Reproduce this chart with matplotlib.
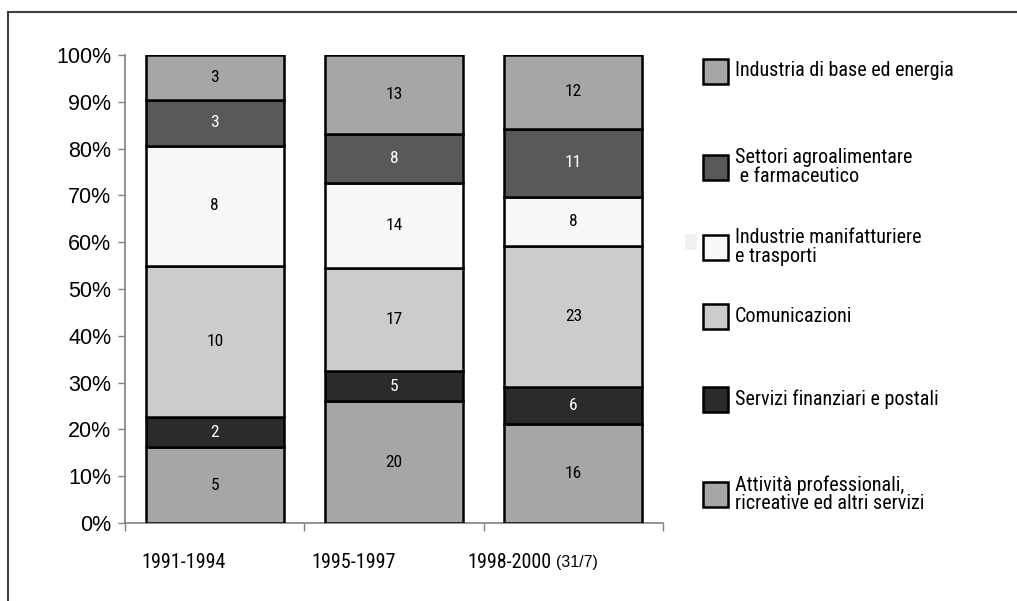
import numpy as np
import matplotlib
matplotlib.use("Agg")
import matplotlib.pyplot as plt
from matplotlib.patches import Rectangle
from matplotlib.lines import Line2D

periods = ['1991-1994', '1995-1997', '1998-2000']
period_note = '(31/7)'
sectors = [
    'Attività professionali,\nricreative ed altri servizi',
    'Servizi finanziari e postali',
    'Comunicazioni',
    'Industrie manifatturiere\ne trasporti',
    'Settori agroalimentare\n e farmaceutico',
    'Industria di base ed energia',
]
# number of operations per period, bottom -> top
attivita = [5, 20, 16]
servizi_fin = [2, 5, 6]
comunicazioni = [10, 17, 23]
manifatturiere = [8, 14, 8]
agroalimentare = [3, 8, 11]
industria_base = [3, 13, 12]

colors = ['#a6a6a6', '#2b2b2b', '#cccccc', '#f8f8f8', '#595959', '#a6a6a6']
text_colors = ['black', 'white', 'black', 'black', 'white', 'black']

narrow = ['Roboto Condensed', 'Liberation Sans', 'DejaVu Sans']
arial = ['Liberation Sans', 'DejaVu Sans']

counts = np.array([attivita, servizi_fin, comunicazioni, manifatturiere,
                   agroalimentare, industria_base], dtype=float)
pct = counts / counts.sum(axis=0) * 100

fig = plt.figure(figsize=(10.17, 6.01), dpi=100)
ax = fig.add_axes([0.123, 0.130, 0.529, 0.7785])

x = np.arange(len(periods))
bottom = np.zeros(len(periods))
for i in range(len(sectors)):
    ax.bar(x, pct[i], 0.77, bottom=bottom, color=colors[i],
           edgecolor='black', linewidth=1.8, zorder=3)
    for j in range(len(periods)):
        ax.text(x[j], bottom[j] + pct[i][j] / 2, str(int(counts[i][j])),
                ha='center', va='center', fontsize=12.5, family=narrow,
                color=text_colors[i], zorder=4)
    bottom += pct[i]

ax.set_xlim(-0.5, 2.5)
ax.set_ylim(0, 100)
ax.set_yticks(np.arange(0, 101, 10))
ax.set_yticklabels([f'{v}%' for v in range(0, 101, 10)],
                   fontsize=15.5, family=arial)
ax.set_xticks([-0.5, 0.5, 1.5, 2.5])
ax.set_xticklabels([])
ax.tick_params(axis='y', length=5, width=1, color='#808080', pad=5)
ax.tick_params(axis='x', length=6, width=1, color='#808080')
for s in ['top', 'right']:
    ax.spines[s].set_visible(False)
for s in ['left', 'bottom']:
    ax.spines[s].set_color('#808080')
    ax.spines[s].set_linewidth(1.2)

# category labels sit a bit left of the bar centres, as in the original
shift = [-0.173, -0.226, -0.357]
lbl = None
for j, p in enumerate(periods):
    lbl = ax.text(x[j] + shift[j], -8.4, p, ha='center', va='center',
                  fontsize=14.5, family=narrow)
ax.annotate(period_note, xy=(1, 0.5), xycoords=lbl, xytext=(3, 0),
            textcoords='offset points', ha='left', va='center',
            fontsize=11.5, family=arial)

# legend drawn by hand, top to bottom
W, H = 1017.0, 601.0
leg_y = [71, 167, 247, 316, 399, 494]
for k, yy in enumerate(leg_y):
    i = len(sectors) - 1 - k
    fig.patches.append(Rectangle((703 / W, 1 - (yy + 12.5) / H), 25 / W, 25 / H,
                                 transform=fig.transFigure,
                                 facecolor=colors[i], edgecolor='black',
                                 linewidth=1.8))
    fig.text(735 / W, 1 - yy / H, sectors[i], ha='left', va='center',
             fontsize=14.5, family=narrow, linespacing=0.95)

# small stray grey square next to the legend
fig.patches.append(Rectangle((685 / W, 1 - 250 / H), 12 / W, 16 / H,
                             transform=fig.transFigure,
                             facecolor='#f0f0f0', edgecolor='none'))

# frame lines
fig.add_artist(Line2D([8 / W, 1.0], [1 - 12 / H, 1 - 12 / H],
                      color='#404040', linewidth=1.5))
fig.add_artist(Line2D([8 / W, 8 / W], [0, 1 - 12 / H],
                      color='#404040', linewidth=1.5))

fig.savefig('out.png', dpi=100)
